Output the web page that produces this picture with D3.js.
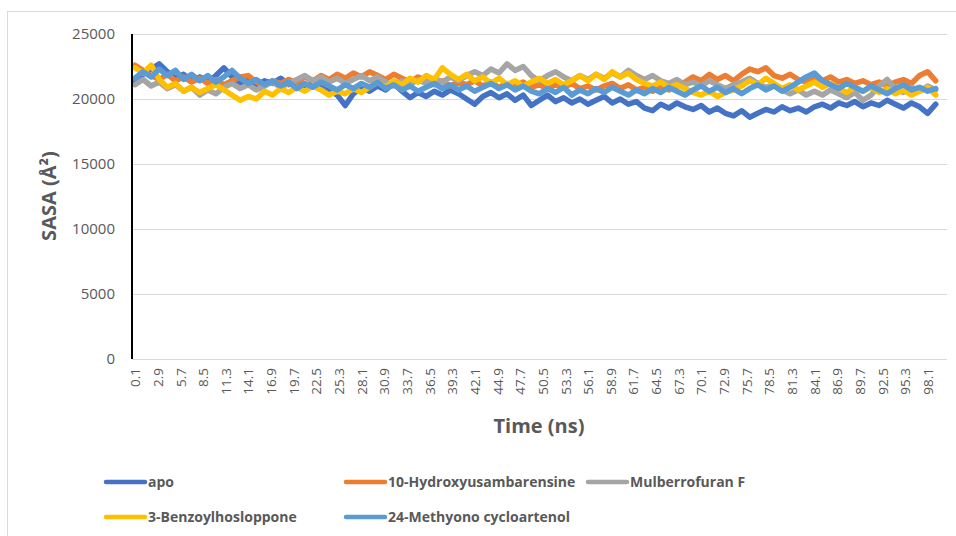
<!DOCTYPE html>
<html>
<head>
<meta charset="utf-8">
<script src="https://cdn.jsdelivr.net/npm/d3@7"></script>
<style>
  body { margin: 0; background: #fff; }
  text { font-family: "Open Sans", "Noto Sans", sans-serif; fill: #595959; }
</style>
</head>
<body>
<div id="chart"></div>
<script>
// time in ns (sampled every 1 ns)
const times = [0.1,1.1,2.1,3.1,4.1,5.1,6.1,7.1,8.1,9.1,10.1,11.1,12.1,13.1,14.1,15.1,16.1,17.1,18.1,19.1,
  20.1,21.1,22.1,23.1,24.1,25.1,26.1,27.1,28.1,29.1,30.1,31.1,32.1,33.1,34.1,35.1,36.1,37.1,38.1,39.1,
  40.1,41.1,42.1,43.1,44.1,45.1,46.1,47.1,48.1,49.1,50.1,51.1,52.1,53.1,54.1,55.1,56.1,57.1,58.1,59.1,
  60.1,61.1,62.1,63.1,64.1,65.1,66.1,67.1,68.1,69.1,70.1,71.1,72.1,73.1,74.1,75.1,76.1,77.1,78.1,79.1,
  80.1,81.1,82.1,83.1,84.1,85.1,86.1,87.1,88.1,89.1,90.1,91.1,92.1,93.1,94.1,95.1,96.1,97.1,98.1,99.1];

const xTicks = [0.1,2.9,5.7,8.5,11.3,14.1,16.9,19.7,22.5,25.3,28.1,30.9,33.7,36.5,39.3,42.1,44.9,47.7,
  50.5,53.3,56.1,58.9,61.7,64.5,67.3,70.1,72.9,75.7,78.5,81.3,84.1,86.9,89.7,92.5,95.3,98.1];
const yTicks = [0,5000,10000,15000,20000,25000];

const apo = [21300,21900,22300,22700,22100,21600,21900,21400,21700,21300,21800,22400,21700,21200,21500,21000,21400,21200,21600,21100,
  21300,20900,21200,21000,20700,20300,19500,20400,20900,20600,21000,20700,21200,20600,20100,20500,20200,20600,20300,20700,
  20400,20000,19600,20200,20500,20100,20400,19900,20300,19500,19900,20300,19800,20100,19700,20000,19600,19900,20200,19700,
  20000,19600,19800,19300,19100,19600,19300,19700,19400,19200,19500,19000,19300,18900,18700,19100,18600,18900,19200,19000,
  19400,19100,19300,19000,19400,19600,19300,19700,19500,19800,19400,19700,19500,19900,19600,19300,19700,19400,18900,19600];

const hydroxy = [22600,22200,21800,21500,21900,21400,21700,21300,21600,21200,21500,21100,21400,21700,21800,21300,21000,21400,21200,21500,
  21300,21700,21400,21800,21500,21900,21600,22000,21700,22100,21800,21500,21900,21600,21300,21700,21400,21100,21400,21000,
  21300,21100,21400,21000,21300,20900,21200,21000,21300,20900,21100,20800,21100,20900,21200,20800,21000,20700,21000,21200,
  20800,21100,20700,20900,20600,20900,20700,21000,21300,21700,21400,21900,21500,21800,21400,21900,22300,22100,22400,21800,
  21600,21900,21500,21300,21600,21400,21700,21300,21500,21200,21400,21100,21300,21000,21300,21500,21200,21800,22100,21400];

const mulberrofuran = [21100,21500,21000,21300,20800,21100,20600,20900,20300,20700,20400,20900,21200,20800,21100,20700,21000,21300,20900,21200,
  21500,21800,21400,21700,21300,21600,21200,21500,21800,21400,21700,21300,21000,21400,21100,21500,21200,21600,21300,21700,
  21400,21800,22100,21800,22300,22000,22700,22200,22500,21800,21400,21800,22100,21700,21400,21800,21500,21900,21600,22000,
  21700,22200,21800,21500,21800,21400,21200,21500,21100,21300,21000,21400,21100,20800,21100,21300,21600,21200,20900,21100,
  20700,20400,20700,20300,20600,20300,20700,20400,20100,20500,19900,20300,21000,21500,20800,20500,20900,20600,21000,20700];

const benzoyl = [22400,22000,22600,21500,20900,21200,20600,20900,20500,20800,21100,20700,20300,19900,20200,20000,20600,20300,20800,20500,
  20900,20600,21000,20700,20300,20600,20400,20800,20500,20900,21300,20900,21400,21100,21600,21300,21800,21500,22400,21900,
  21500,21900,21400,21700,21200,21600,21100,21400,21000,21300,21600,21200,21500,21100,21400,21800,21400,21900,21500,22100,
  21700,22000,21500,21200,21000,21300,20900,21100,20800,20500,20300,20600,20200,20500,20700,21000,21400,21100,21600,21200,
  20800,21100,20700,21000,21300,20900,21200,20800,20500,20900,20600,20900,20500,20800,20400,20700,20300,20600,20900,20300];

const methyono = [21600,22100,21700,22300,21800,22200,21500,21900,21400,21800,21300,21700,22200,21600,21200,21500,21100,21400,21000,21300,
  20800,21200,20900,21300,21000,20700,21100,20800,21200,20900,21300,20800,21100,20700,21000,20600,20900,21200,20800,21100,
  20700,21000,20600,20900,21200,20800,21100,20700,21000,20600,20400,20800,20500,20900,20300,20700,20400,20800,20500,20900,
  20600,20300,20700,20400,20800,20500,20900,20600,20300,20700,21000,20600,20900,20500,20800,20400,20800,21100,20700,21000,
  20600,20900,21300,21700,22000,21400,21100,20800,21200,20900,20600,21000,20700,20400,20800,21100,20700,20900,20600,20800];

const seriesNames = ["apo","10-Hydroxyusambarensine","Mulberrofuran F","3-Benzoylhosloppone","24-Methyono cycloartenol"];
const seriesValues = [apo, hydroxy, mulberrofuran, benzoyl, methyono];
const colors = ["#4472C4","#ED7D31","#A5A5A5","#FFC000","#5B9BD5"];

const W = 956, H = 536;
const plot = {left: 132, right: 947, top: 34, bottom: 359};

const svg = d3.select("#chart").append("svg")
  .attr("width", W).attr("height", H);

// outer chart frame
svg.append("rect")
  .attr("x", 7.5).attr("y", 11.5)
  .attr("width", 980).attr("height", 560)
  .attr("fill", "none").attr("stroke", "#d9d9d9");

const x = d3.scaleLinear().domain([0.1, 100]).range([135, 943]);
const y = d3.scaleLinear().domain([0, 25000]).range([plot.bottom, plot.top]);

// gridlines
svg.append("g")
  .selectAll("line").data(yTicks).join("line")
  .attr("x1", plot.left).attr("x2", plot.right)
  .attr("y1", d => y(d) + 0.5).attr("y2", d => y(d) + 0.5)
  .attr("stroke", "#d9d9d9").attr("stroke-width", 1);

// y axis labels
const yAxis = svg.append("g")
  .attr("transform", `translate(${plot.left},0)`)
  .call(d3.axisLeft(y).tickValues(yTicks).tickSize(0).tickPadding(17).tickFormat(d3.format("d")));
yAxis.select(".domain").remove();
yAxis.selectAll("text").style("font-size", "15px").attr("fill", "#595959");

// x axis labels
const xAxis = svg.append("g")
  .attr("transform", `translate(0,${plot.bottom})`)
  .call(d3.axisBottom(x).tickValues(xTicks).tickSize(0).tickFormat(d3.format(".1f")));
xAxis.select(".domain").remove();
xAxis.selectAll("text")
  .style("font-size", "13.5px").attr("fill", "#595959")
  .attr("transform", "rotate(-90)")
  .attr("text-anchor", "end")
  .attr("x", -9).attr("y", 0).attr("dy", "0.35em");

// lines
const line = d3.line()
  .x((d, i) => x(times[i]))
  .y(d => y(d))
  .curve(d3.curveLinear);

svg.append("g")
  .selectAll("path").data(seriesValues).join("path")
  .attr("d", line)
  .attr("fill", "none")
  .attr("stroke", (d, i) => colors[i])
  .attr("stroke-width", 5.5)
  .attr("stroke-linejoin", "round")
  .attr("stroke-linecap", "round");

// y axis line (black)
svg.append("line")
  .attr("x1", plot.left).attr("x2", plot.left)
  .attr("y1", plot.top).attr("y2", plot.bottom)
  .attr("stroke", "#000").attr("stroke-width", 2);

// axis titles
svg.append("text")
  .attr("transform", "translate(56,196) rotate(-90)")
  .attr("text-anchor", "middle")
  .style("font-size", "20px").style("font-weight", "bold")
  .text("SASA (Å²)");

svg.append("text")
  .attr("x", 539).attr("y", 433)
  .attr("text-anchor", "middle")
  .style("font-size", "20px").style("font-weight", "bold")
  .text("Time (ns)");

// legend
const legendPos = [[106, 482], [346, 482], [588, 482], [106, 517], [346, 517]];
const legend = svg.append("g").selectAll("g").data(seriesNames).join("g")
  .attr("transform", (d, i) => `translate(${legendPos[i][0]},${legendPos[i][1]})`);
legend.append("line")
  .attr("x1", 0).attr("x2", 39).attr("y1", 0).attr("y2", 0)
  .attr("stroke", (d, i) => colors[i]).attr("stroke-width", 4.5)
  .attr("stroke-linecap", "round");
legend.append("text")
  .attr("x", 42).attr("y", 0).attr("dy", "0.35em")
  .style("font-size", "14px").style("font-weight", "bold")
  .text(d => d);
</script>
</body>
</html>
